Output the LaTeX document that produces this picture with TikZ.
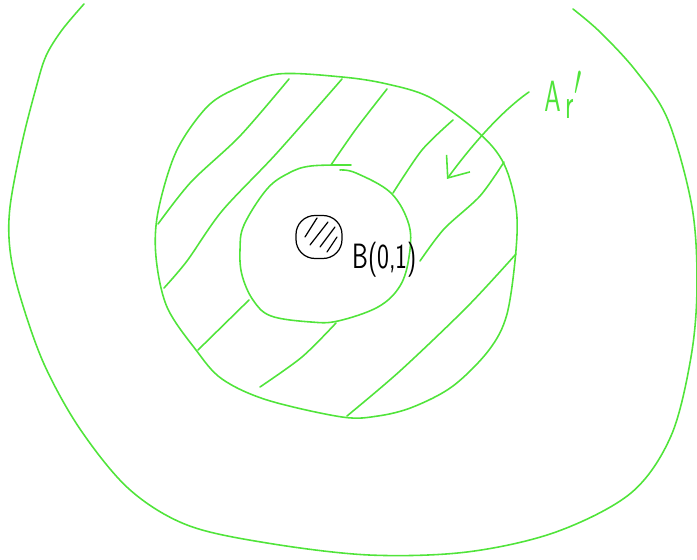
\documentclass[tikz,border=0pt]{standalone}
\usepackage{graphicx}
\usetikzlibrary{arrows.meta}
\definecolor{penGreen}{RGB}{80,228,58}

\begin{document}
\begin{tikzpicture}[
    x=0.02cm, y=-0.02cm,
    pen/.style={draw=penGreen, line width=0.9pt, line cap=round, line join=round},
    hatch/.style={pen},
    ink/.style={draw=black, line width=0.7pt, line cap=round},
    blob/.style={ink, rounded corners=0.38cm, minimum width=0.92cm, minimum height=0.86cm, inner sep=0pt},
    tag/.style={inner sep=0pt, font=\fontsize{20}{20}\selectfont\sffamily},
    pointer/.style={pen, -{Straight Barb[length=3.6mm, width=5.8mm, line width=0.9pt]}}
  ]
    \useasboundingbox (0,0) rectangle (697,560);

    % outer curve, open at the top
    \draw[pen] plot[smooth, tension=0.55] coordinates {(84,4) (62,30) (46,56) (36,88) (22,143) (10,207) (10,250) (20,296) (44,364) (80,429) (129,489) (187,525) (267,543) (369,555) (467,552) (556,532) (631,493) (671,436) (691,357) (697,286) (692,207) (668,120) (636,71) (600,32) (573,9)};

    % ring: outer and inner boundary
    \draw[pen] plot[smooth cycle, tension=0.55] coordinates {(278,74) (342,77) (387,84) (431,98) (480,134) (504,164) (516,207) (516,250) (507,314) (489,350) (453,386) (413,407) (378,416) (342,417) (267,400) (222,379) (196,350) (167,307) (156,257) (158,212) (176,152) (206,108) (235,89)};
    \draw[pen] plot[smooth, tension=0.6] coordinates {(351,165) (311,166) (289,173) (267,189) (244,225) (240,250) (242,275) (253,300) (271,316) (311,322) (338,321) (378,307) (400,286) (409,257) (409,225) (391,193) (356,173) (340,170)};

    % hatching of the ring
    \draw[hatch] plot[smooth] coordinates {(158,224) (191,182) (240,136) (289,79)};
    \draw[hatch] plot[smooth] coordinates {(164,288) (187,261) (222,211) (276,154) (342,79)};
    \draw[hatch] plot[smooth] coordinates {(331,165) (356,129) (387,89)};
    \draw[hatch] plot[smooth] coordinates {(393,193) (422,150) (453,120)};
    \draw[hatch] plot[smooth] coordinates {(198,350) (249,300)};
    \draw[hatch] plot[smooth] coordinates {(260,387) (302,357) (336,323)};
    \draw[hatch] plot[smooth] coordinates {(420,261) (444,229) (480,196) (504,162)};
    \draw[hatch] plot[smooth] coordinates {(347,416) (400,371) (467,307) (516,254)};

    % the small set B and its name
    \node[blob] (B) at (319,237) {};
    \draw[ink] (305,237) -- (317,218);
    \draw[ink] (310,245) -- (328,222);
    \draw[ink] (320,247) -- (335,227);
    \draw[ink] (327,252) -- (337,237);
    \node[tag, anchor=west] (Bname) at (352,260) {\scalebox{0.72}[1]{B(0,1)}};

    % the set A_r' and the arrow to it
    \node[inner sep=0pt, text=penGreen, anchor=west, font=\fontsize{34}{34}\selectfont] (Aname) at (544,95) {\scalebox{0.6}[1]{$\mathsf{A}_{\,\mathsf{r}}{}^{\prime}$}};
    \coordinate (tail) at (529,92);
    \coordinate (tip) at (447,179);
    \draw[pointer] (tail) .. controls (500,112) and (468,150) .. (tip);
  \end{tikzpicture}
\end{document}
